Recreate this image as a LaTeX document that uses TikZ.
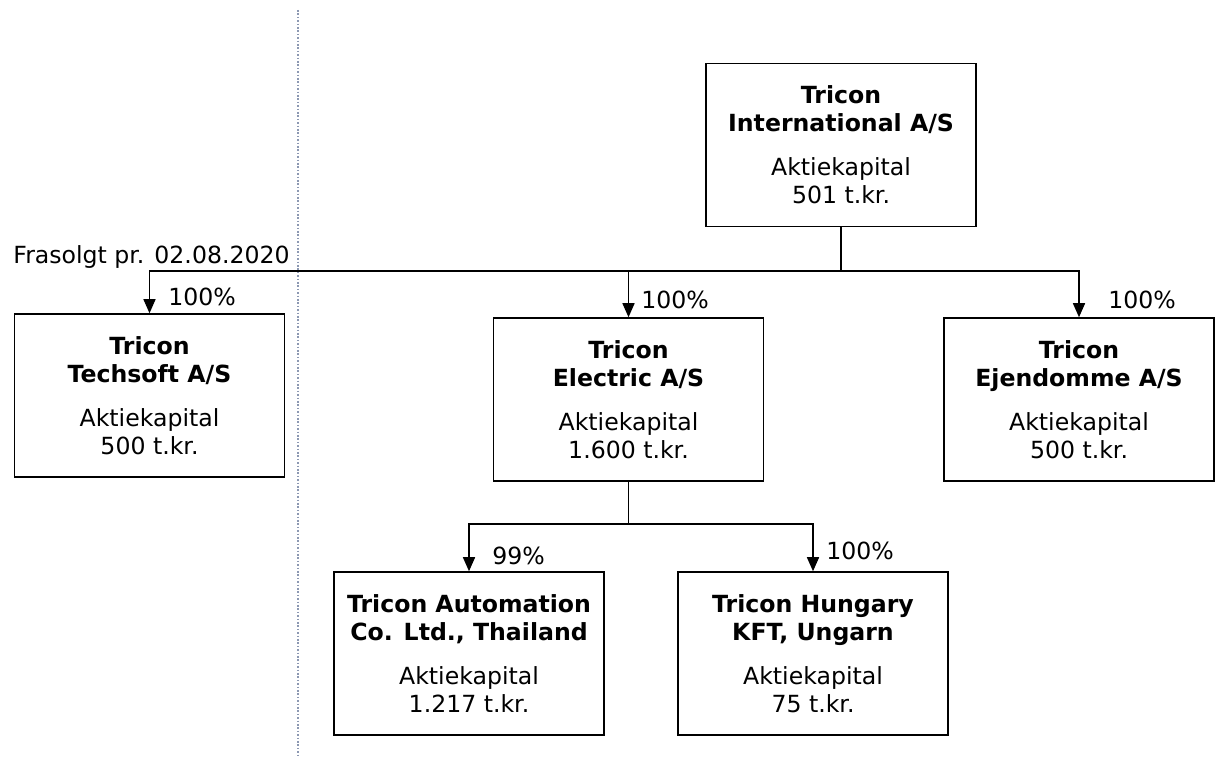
\documentclass[tikz,border=0pt]{standalone}
\usepackage{fontspec}
\setmainfont{DejaVu Sans}
\usepackage{xcolor}
\usetikzlibrary{arrows.meta,positioning}
\definecolor{soldline}{RGB}{140,152,178}

\begin{document}
\begin{tikzpicture}[x=0.5pt,y=-0.5pt,font=\fontsize{11.8}{14}\selectfont,
  company/.style={draw,line width=0.75pt,minimum width=135pt,minimum height=81.5pt,align=center,inner sep=0pt},
  owner/.style={line width=0.7pt},
  share/.style={owner,-{Triangle[length=7pt,width=6pt]}},
  pct/.style={anchor=west,inner sep=0pt}]
\useasboundingbox (0,0) rectangle (1215,758);
% sold-off divider
\coordinate (cut top) at (298,10);
\coordinate (cut bottom) at (298,758);
\draw[soldline,line width=0.6pt,dash pattern=on 0.8pt off 0.9pt] (cut top) -- (cut bottom);
\node[anchor=west,inner sep=0pt] (sold) at (13,257) {Frasolgt pr. 02.08.2020};
% companies
\node[company] (intl) at (841,145) {\textbf{Tricon}\\\textbf{International A/S}\\[8pt]Aktiekapital\\501 t.kr.};
\node[company] (techsoft) at (149.5,395.5) {\textbf{Tricon}\\\textbf{Techsoft A/S}\\[8pt]Aktiekapital\\500 t.kr.};
\node[company] (electric) at (628.5,399.5) {\textbf{Tricon}\\\textbf{Electric A/S}\\[8pt]Aktiekapital\\1.600 t.kr.};
\node[company] (ejendomme) at (1079,399.5) {\textbf{Tricon}\\\textbf{Ejendomme A/S}\\[8pt]Aktiekapital\\500 t.kr.};
\node[company] (automation) at (469,653.5) {\textbf{Tricon Automation}\\\textbf{Co. Ltd., Thailand}\\[8pt]Aktiekapital\\1.217 t.kr.};
\node[company] (hungary) at (813,653.5) {\textbf{Tricon Hungary}\\\textbf{KFT, Ungarn}\\[8pt]Aktiekapital\\75 t.kr.};
% ownership lines
\coordinate (top bus) at (841,271);
\coordinate (sub bus) at (628.5,524);
\draw[owner] (intl) -- (top bus);
\draw[share] (top bus) -| (techsoft);
\draw[share] (top bus) -| (electric);
\draw[share] (top bus) -| (ejendomme);
\draw[owner] (electric) -- (sub bus);
\draw[share] (sub bus) -| (automation);
\draw[share] (sub bus) -| (hungary);
% shares
\node[pct] (p techsoft) at (168,297) {100\%};
\node[pct] (p electric) at (641,300) {100\%};
\node[pct] (p ejendomme) at (1108,300) {100\%};
\node[pct] (p automation) at (492,556) {99\%};
\node[pct] (p hungary) at (826,551) {100\%};
\end{tikzpicture}
\end{document}
